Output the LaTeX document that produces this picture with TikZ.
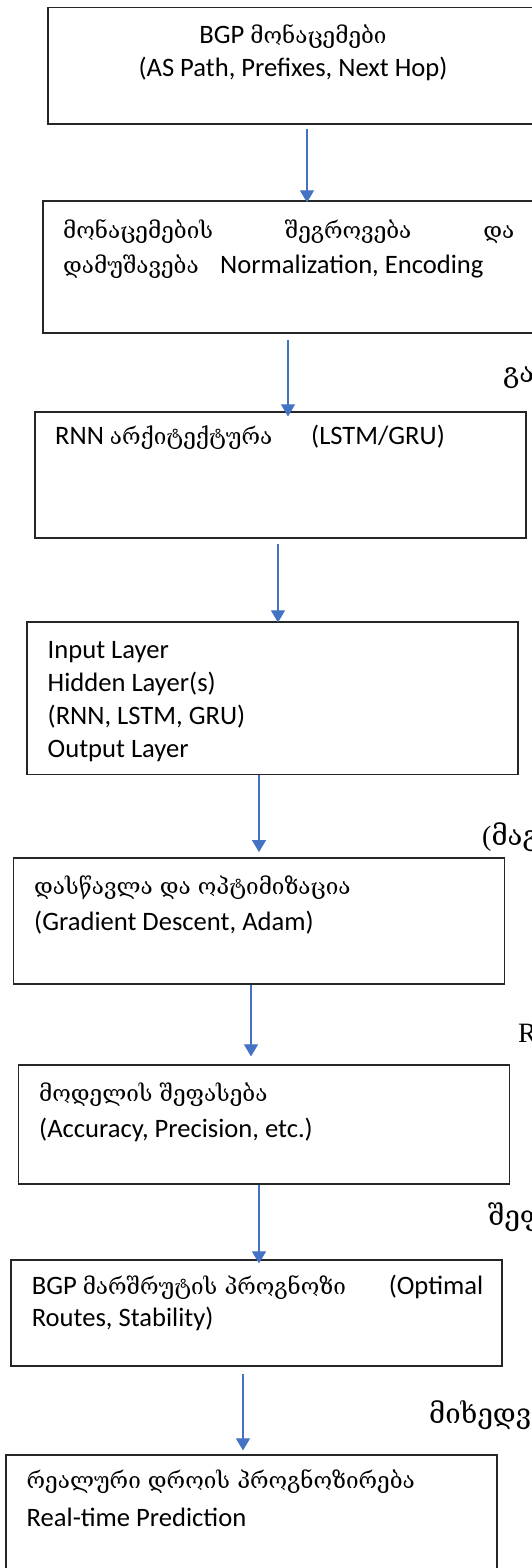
\documentclass[tikz,border=0pt]{standalone}
\usepackage{fontspec}
\usetikzlibrary{arrows.meta}
\setmainfont{Carlito}
\newfontfamily\geo{DejaVu Serif}
\newfontfamily\serifside{Liberation Serif}
\newcommand\kat[1]{{\geo\fontsize{22.5}{33}\selectfont #1}}
\newcommand\katbig[1]{{\geo\fontsize{27.5}{33}\selectfont #1}}
\definecolor{arrowblue}{HTML}{4472C4}
\definecolor{boxline}{HTML}{262626}
\begin{document}
\begin{tikzpicture}[x=1pt,y=-1pt,
  box/.style={draw=boxline, line width=1.2pt, inner sep=0pt, minimum width=491pt},
  txt/.style={anchor=base west, align=left, inner sep=0pt, font=\fontsize{26.6}{33}\selectfont},
  flow/.style={draw=arrowblue, line width=1.1pt, -{Triangle[length=12pt,width=14pt]}},
  side/.style={anchor=base west, inner sep=0pt, text=black}]
\useasboundingbox (0,0) rectangle (532,1568);
\clip (0,0) rectangle (532,1568);
% boxes
\node[box, minimum height=116.5pt] (b1) at (293.5,65.75) {};
\node[box, minimum height=132pt] (b2) at (288.5,267) {};
\node[box, minimum height=126pt] (b3) at (280.5,475) {};
\node[box, minimum height=152.6pt] (b4) at (272.5,698.3) {};
\node[box, minimum height=126pt] (b5) at (259.1,921) {};
\node[box, minimum height=119pt] (b6) at (264.2,1124.5) {};
\node[box, minimum height=106pt] (b7) at (256.5,1313) {};
\node[box, minimum height=145pt] (b8) at (251.5,1527.5) {};
% texts (base anchor = baseline of last line)
\node[txt, anchor=base, align=center] (t1) at (293,77) {BGP \kat{მონაცემები}\\(AS Path, Prefixes, Next Hop)};
\node[txt] (t2) at (63,273) {\makebox[451pt][l]{\kat{მონაცემების}\hfill\kat{შეგროვება}\hfill\kat{და}}\\[2pt]\makebox[157pt][l]{\kat{დამუშავება}}Normalization, Encoding};
\node[txt] (t3) at (55,444) {\makebox[256pt][l]{RNN \kat{არქიტექტურა}}(LSTM/GRU)};
\node[txt] (t4) at (47.5,757.6) {Input Layer\\Hidden Layer(s)\\(RNN, LSTM, GRU)\\Output Layer};
\node[txt] (t5) at (34,930) {\kat{დასწავლა და ოპტიმიზაცია}\\[3pt](Gradient Descent, Adam)};
\node[txt] (t6) at (39,1137) {\kat{მოდელის შეფასება}\\[3pt](Accuracy, Precision, etc.)};
\node[txt] (t7) at (31.6,1326) {\makebox[357pt][l]{BGP \kat{მარშრუტის პროგნოზი}}(Optimal\\[-1.5pt]Routes, Stability)};
\node[txt] (t8) at (26.5,1526) {\kat{რეალური დროის პროგნოზირება}\\[4.5pt]Real-time Prediction};
% side fragments
\node[side] (s1) at (503,382) {\katbig{გა}};
\node[side] (s2) at (482,845) {{\serifside\fontsize{28}{30}\selectfont (}\katbig{მაგ}};
\node[side] (s3) at (518,1042) {\serifside\fontsize{28}{30}\selectfont R};
\node[side] (s4) at (488,1225) {\katbig{შეფ}};
\node[side] (s5) at (429,1423) {\katbig{მიხედვ}};
% connectors
\draw[flow] ([xshift=13.5pt,yshift=-4pt]b1.south) -- ([xshift=18.5pt,yshift=-2pt]b2.north);
\draw[flow] ([xshift=-0.5pt,yshift=-6pt]b2.south) -- ([xshift=7.5pt,yshift=-5pt]b3.north);
\draw[flow] ([xshift=-2.5pt,yshift=-5pt]b3.south) -- ([xshift=5.5pt,yshift=-1pt]b4.north);
\draw[flow] ([xshift=-13.5pt]b4.south) -- ([xshift=-0.1pt,yshift=5.3pt]b5.north);
\draw[flow] ([xshift=-8.1pt]b5.south) -- ([xshift=-13.2pt,yshift=8pt]b6.north);
\draw[flow] ([xshift=-5.2pt]b6.south) -- ([xshift=2.5pt,yshift=-4pt]b7.north);
\draw[flow] ([xshift=-13.5pt,yshift=-7pt]b7.south) -- ([xshift=-8.5pt,yshift=4pt]b8.north);
\end{tikzpicture}
\end{document}
